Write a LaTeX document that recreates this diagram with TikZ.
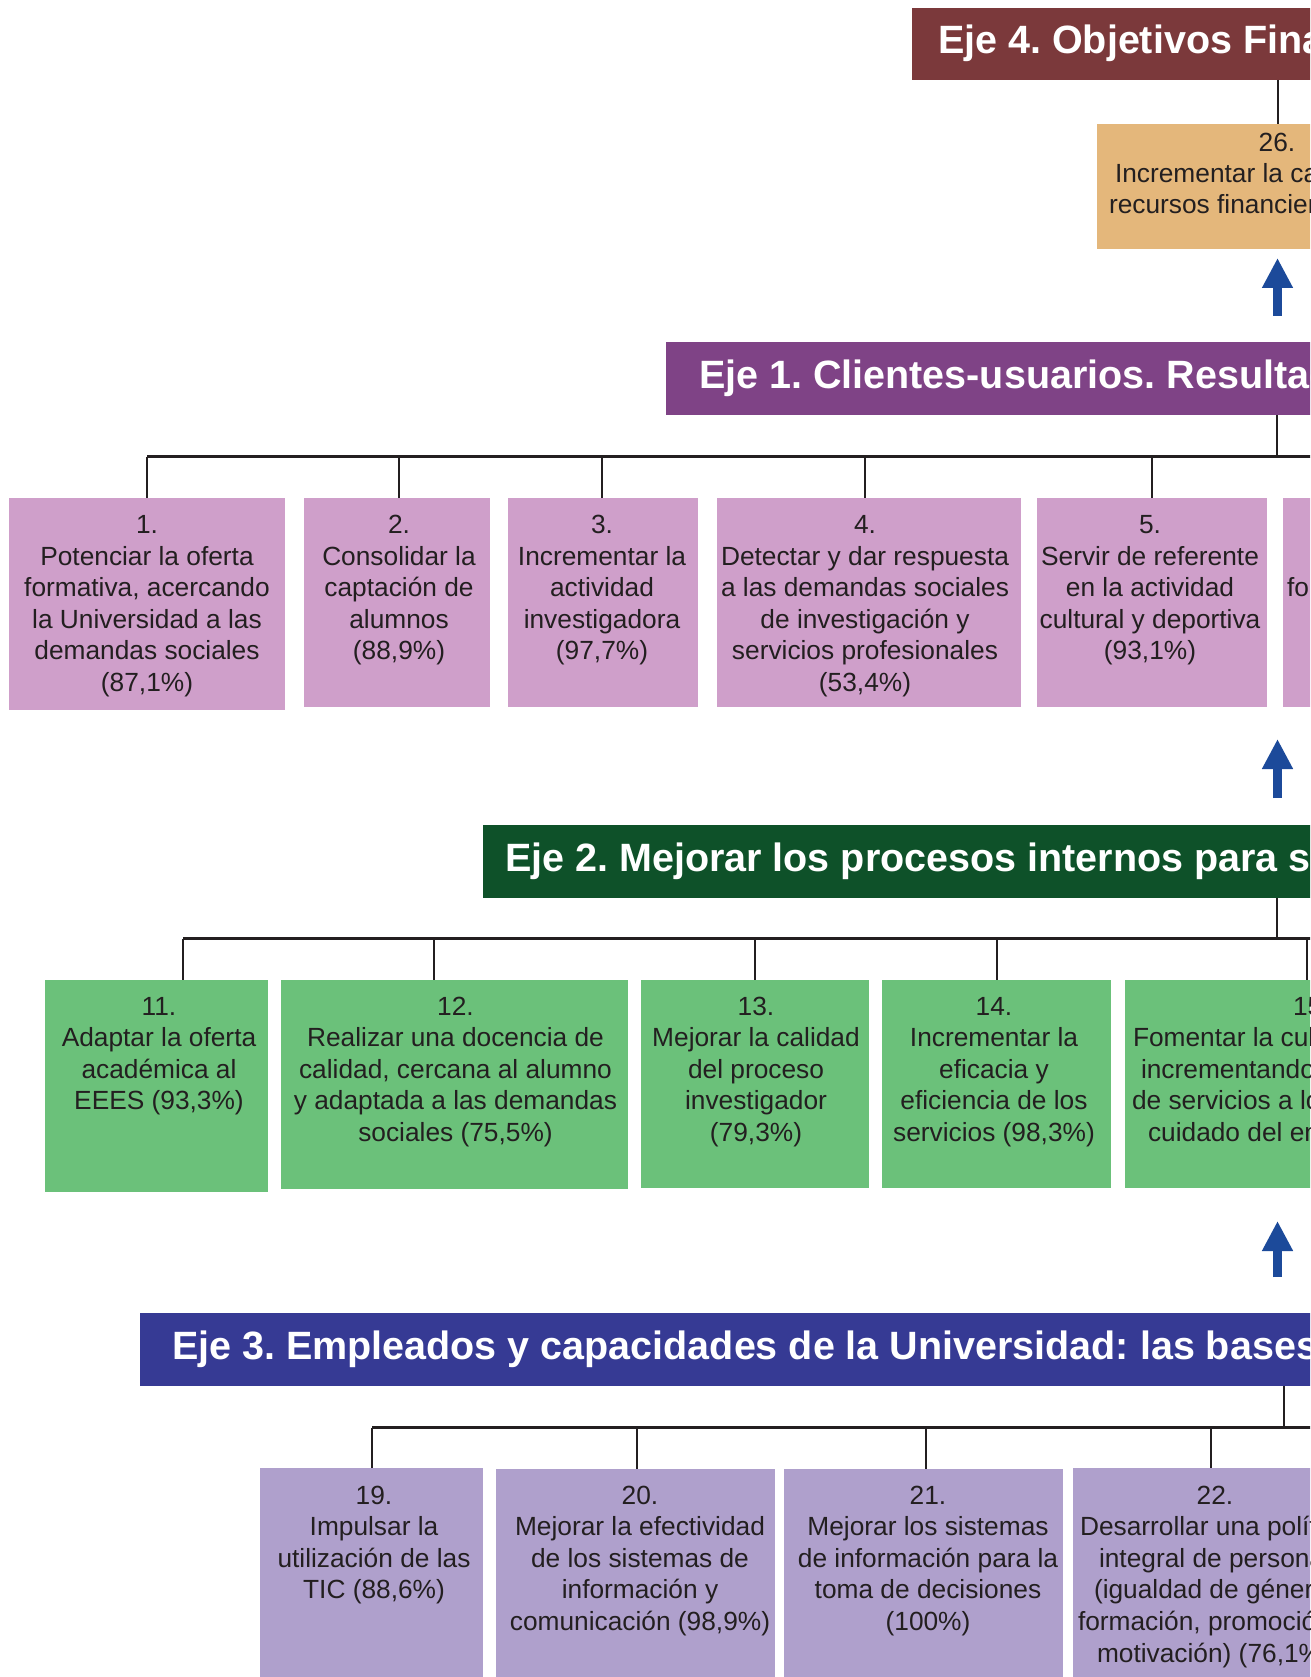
\documentclass[tikz,border=0pt]{standalone}
\usepackage{fontspec}
\setmainfont{Liberation Sans}
\frenchspacing
\usetikzlibrary{arrows.meta}
\definecolor{ejefour}{HTML}{7B393B}
\definecolor{cfin}{HTML}{E4B77B}
\definecolor{ejeone}{HTML}{7F4386}
\definecolor{cone}{HTML}{CF9FCA}
\definecolor{ejetwo}{HTML}{0E5129}
\definecolor{ctwo}{HTML}{6BC17A}
\definecolor{ejethree}{HTML}{363A94}
\definecolor{cthree}{HTML}{AFA0CC}
\definecolor{arrowc}{HTML}{1C4A9A}
\definecolor{txtc}{HTML}{231F20}
\definecolor{linec}{HTML}{231F20}
\newcommand\mybox[6]{\node[box, fill=#6, minimum width={#4pt-#2pt}, minimum height={#5pt-#3pt}] (#1) at (#2,#3) {};}
\newcommand\clines[4]{\foreach \myl [count=\i from 0] in {#4} {\node[txt, anchor=base] (#1-\i) at (#2, #3+\i*31.6) {\myl};}}
\begin{document}
\begin{tikzpicture}[x=1pt,y=-1pt,
  box/.style={rectangle, inner sep=0pt, outer sep=0pt, draw=none, anchor=north west},
  txt/.style={inner sep=0pt, outer sep=0pt, text=txtc, font=\fontsize{26.3}{31.6}\selectfont},
  hdr/.style={inner sep=0pt, outer sep=0pt, text=white, font=\fontsize{39.5}{46}\selectfont\bfseries, anchor=base west},
  link/.style={draw=linec, line width=2pt},
  bar/.style={draw=linec, line width=3pt},
  up/.style={draw=arrowc, line width=9pt, -{Triangle[length=30pt,width=29pt]}}]
\useasboundingbox (0,0) rectangle (1310,1677);
\fill[white] (0,0) rectangle (1310,1677);
\clip (0,0) rectangle (1310,1677);

% ---------- Eje 4 ----------
\mybox{eje4}{912}{8}{1340}{80}{ejefour}
\node[hdr] (eje4t) at (938,54) {Eje 4. Objetivos Financieros};
\mybox{b26}{1097}{124}{1340}{249}{cfin}
\node[txt, anchor=base] (b26-0) at (1277,152) {26.};
\node[txt, anchor=base west] (b26-1) at (1115,183) {Incrementar la captación de};
\node[txt, anchor=base west] (b26-2) at (1109,214) {recursos financieros (78,0\%)};
\coordinate (c4) at (1278,0);
\draw[link] (eje4.south -| c4) -- (b26.north -| c4);

% ---------- Eje 1 ----------
\mybox{eje1}{666}{342}{1340}{415}{ejeone}
\node[hdr] (eje1t) at (699,388) {Eje 1. Clientes-usuarios. Resultados};
\coordinate (a1s) at (1277.5,316);
\coordinate (a1e) at (1277.5,258);
\draw[up] (a1s) -- (a1e);

\mybox{b1}{9}{498}{285}{710}{cone}
\mybox{b2}{304}{498}{490}{707}{cone}
\mybox{b3}{508}{498}{698}{707}{cone}
\mybox{b4}{717}{498}{1021}{707}{cone}
\mybox{b5}{1037}{498}{1267}{707}{cone}
\mybox{b6}{1283}{498}{1340}{707}{cone}
\clines{b1}{147}{533.5}{{1.},{Potenciar la oferta},{formativa, acercando},{la Universidad a las},{demandas sociales},{(87,1\%)}}
\clines{b2}{399}{533.5}{{2.},{Consolidar la},{captación de},{alumnos},{(88,9\%)}}
\clines{b3}{602}{533.5}{{3.},{Incrementar la},{actividad},{investigadora},{(97,7\%)}}
\clines{b4}{865}{533.5}{{4.},{Detectar y dar respuesta},{a las demandas sociales},{de investigación y},{servicios profesionales},{(53,4\%)}}
\clines{b5}{1150}{533.5}{{5.},{Servir de referente},{en la actividad},{cultural y deportiva},{(93,1\%)}}
\node[txt, anchor=base west] (b6-2) at (1287,596.7) {fo};

\coordinate (r1) at (1277,456.5);
\coordinate (r1e) at (1340,456.5);
\draw[link] (eje1.south -| r1) -- (r1);
\coordinate (d1) at (147,0);
\coordinate (d2) at (398.5,0);
\coordinate (d3) at (602,0);
\coordinate (d4) at (865,0);
\coordinate (d5) at (1152,0);
\draw[bar] (d1 |- r1) -- (r1e);
\foreach \k in {1,...,5} {\draw[link] (d\k |- r1) -- (d\k |- b\k.north);}

% ---------- Eje 2 ----------
\coordinate (a2s) at (1277.5,798);
\coordinate (a2e) at (1277.5,739);
\draw[up] (a2s) -- (a2e);
\mybox{eje2}{483}{825}{1340}{898}{ejetwo}
\node[hdr] (eje2t) at (505,871) {Eje 2. Mejorar los procesos internos para satisfacer};

\mybox{b11}{45}{980}{268}{1192}{ctwo}
\mybox{b12}{281}{980}{628}{1189}{ctwo}
\mybox{b13}{641}{980}{869}{1188}{ctwo}
\mybox{b14}{882}{980}{1111}{1188}{ctwo}
\mybox{b15}{1125}{980}{1340}{1188}{ctwo}
\clines{b11}{159}{1015}{{11.},{Adaptar la oferta},{académica al},{EEES (93,3\%)}}
\clines{b12}{455.5}{1015}{{12.},{Realizar una docencia de},{calidad, cercana al alumno},{y adaptada a las demandas},{sociales (75,5\%)}}
\clines{b13}{756}{1015}{{13.},{Mejorar la calidad},{del proceso},{investigador},{(79,3\%)}}
\clines{b14}{994}{1015}{{14.},{Incrementar la},{eficacia y},{eficiencia de los},{servicios (98,3\%)}}
\node[txt, anchor=base west] (b15-0) at (1293,1015) {15.};
\node[txt, anchor=base west] (b15-1) at (1133,1046.6) {Fomentar la cultura};
\node[txt, anchor=base west] (b15-2) at (1141,1078.2) {incrementando};
\node[txt, anchor=base west] (b15-3) at (1132,1109.8) {de servicios a los};
\node[txt, anchor=base west] (b15-4) at (1148,1141.4) {cuidado del entorno};

\coordinate (r2) at (1277,938.5);
\coordinate (r2e) at (1340,938.5);
\draw[link] (eje2.south -| r2) -- (r2);
\coordinate (d11) at (183,0);
\coordinate (d12) at (434,0);
\coordinate (d13) at (755,0);
\coordinate (d14) at (997,0);
\coordinate (d15) at (1307,0);
\draw[bar] (d11 |- r2) -- (r2e);
\foreach \k in {11,...,15} {\draw[link] (d\k |- r2) -- (d\k |- b\k.north);}

% ---------- Eje 3 ----------
\coordinate (a3s) at (1277.5,1277);
\coordinate (a3e) at (1277.5,1221);
\draw[up] (a3s) -- (a3e);
\mybox{eje3}{140}{1313}{1340}{1386}{ejethree}
\node[hdr] (eje3t) at (172,1359) {Eje 3. Empleados y capacidades de la Universidad: las bases};

\mybox{b19}{260}{1468}{483}{1700}{cthree}
\mybox{b20}{496}{1469}{775}{1700}{cthree}
\mybox{b21}{784}{1469}{1063}{1700}{cthree}
\mybox{b22}{1073}{1468}{1340}{1700}{cthree}
\clines{b19}{374}{1504}{{19.},{Impulsar la},{utilización de las},{TIC (88,6\%)}}
\clines{b20}{640}{1504}{{20.},{Mejorar la efectividad},{de los sistemas de},{información y},{comunicación (98,9\%)}}
\clines{b21}{928}{1504}{{21.},{Mejorar los sistemas},{de información para la},{toma de decisiones},{(100\%)}}
\node[txt, anchor=base] (b22-0) at (1215,1504) {22.};
\node[txt, anchor=base west] (b22-1) at (1080,1535.6) {Desarrollar una política};
\node[txt, anchor=base west] (b22-2) at (1099,1567.2) {integral de personal};
\node[txt, anchor=base west] (b22-3) at (1094,1598.8) {(igualdad de género,};
\node[txt, anchor=base west] (b22-4) at (1078,1630.4) {formación, promoción y};
\node[txt, anchor=base west] (b22-5) at (1097,1662) {motivación) (76,1\%)};

\coordinate (r3) at (1284,1427.5);
\coordinate (r3e) at (1340,1427.5);
\draw[link] (eje3.south -| r3) -- (r3);
\coordinate (d19) at (372,0);
\coordinate (d20) at (637,0);
\coordinate (d21) at (926,0);
\coordinate (d22) at (1211,0);
\draw[bar] (d19 |- r3) -- (r3e);
\foreach \k in {19,...,22} {\draw[link] (d\k |- r3) -- (d\k |- b\k.north);}
\end{tikzpicture}
\end{document}
